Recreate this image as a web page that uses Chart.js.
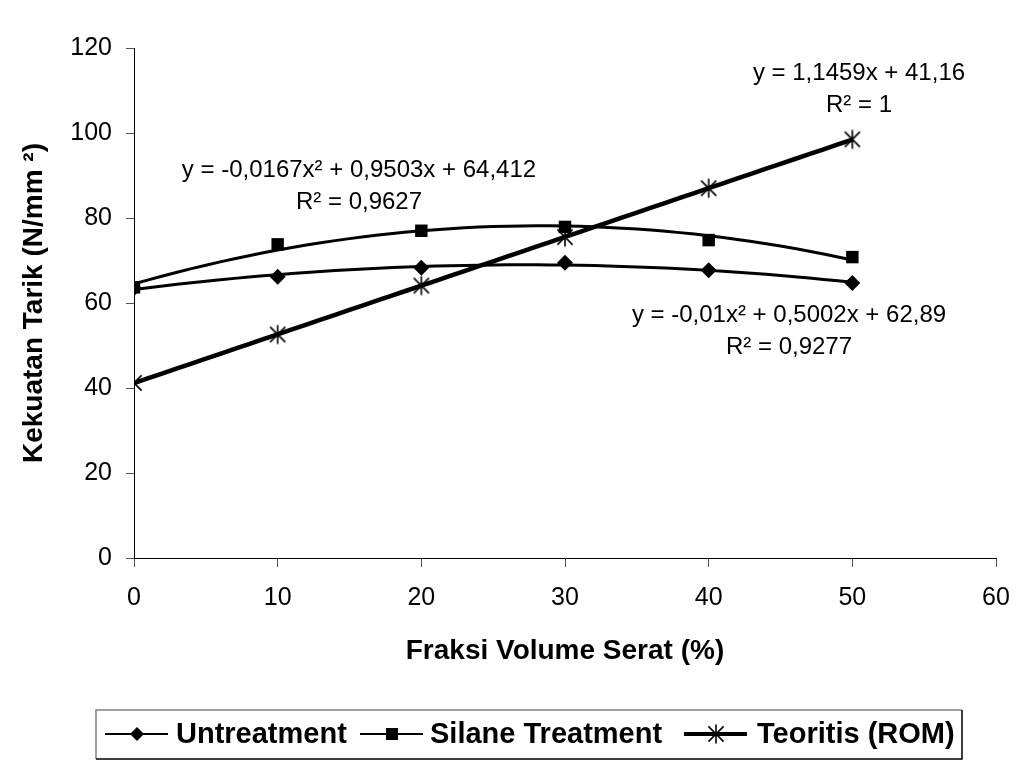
<!DOCTYPE html>
<html>
<head>
<meta charset="utf-8">
<script src="https://cdn.jsdelivr.net/npm/chart.js@4.4.1/dist/chart.umd.min.js"></script>
<style>
  body { margin: 0; background: #fff; }
</style>
</head>
<body>
<canvas id="tarikChart" width="1028" height="772"></canvas>
<script>
// data
const fraksi = [0, 10, 20, 30, 40, 50];
const untreatment = [63.5, 66.2, 68.3, 69.5, 67.7, 64.7];
const silane = [63.7, 73.8, 77.0, 77.9, 74.8, 70.8];
const teoritis = [41.2, 52.6, 64.1, 75.5, 87.0, 98.5];

const seriesNames = ['Untreatment', 'Silane Treatment', 'Teoritis (ROM)'];
const eqUntreat = ['y = -0,01x\u00b2 + 0,5002x + 62,89', 'R\u00b2 = 0,9277'];
const eqSilane = ['y = -0,0167x\u00b2 + 0,9503x + 64,412', 'R\u00b2 = 0,9627'];
const eqTeoritis = ['y = 1,1459x + 41,16', 'R\u00b2 = 1'];

const xTicks = [0, 10, 20, 30, 40, 50, 60];
const yTicks = [0, 20, 40, 60, 80, 100, 120];

const FONT = '"Liberation Sans", Arial, sans-serif';

function toPoints(xs, ys) {
  return xs.map((x, i) => ({ x: x, y: ys[i] }));
}

// least squares polynomial fit (like an Excel trendline), returns [c0, c1, c2...]
function polyFit(xs, ys, order) {
  const n = order + 1;
  const A = [], b = [];
  for (let i = 0; i < n; i++) {
    A.push([]);
    for (let j = 0; j < n; j++) {
      A[i].push(xs.reduce((s, x) => s + Math.pow(x, i + j), 0));
    }
    b.push(xs.reduce((s, x, k) => s + ys[k] * Math.pow(x, i), 0));
  }
  // gauss elimination
  for (let i = 0; i < n; i++) {
    for (let k = i + 1; k < n; k++) {
      const f = A[k][i] / A[i][i];
      for (let j = i; j < n; j++) A[k][j] -= f * A[i][j];
      b[k] -= f * b[i];
    }
  }
  const c = new Array(n).fill(0);
  for (let i = n - 1; i >= 0; i--) {
    let s = b[i];
    for (let j = i + 1; j < n; j++) s -= A[i][j] * c[j];
    c[i] = s / A[i][i];
  }
  return c;
}

function trendPoints(ys, order) {
  const c = polyFit(fraksi, ys, order);
  const pts = [];
  for (let x = fraksi[0]; x <= fraksi[fraksi.length - 1]; x += 1) {
    pts.push({ x: x, y: c.reduce((s, ci, i) => s + ci * Math.pow(x, i), 0) });
  }
  return pts;
}

// asterisk marker (X plus a vertical bar)
function starMarker(size, lw) {
  const c = document.createElement('canvas');
  c.width = size; c.height = size;
  const g = c.getContext('2d');
  const m = size / 2, r = size / 2 - 1.5;
  g.strokeStyle = '#000';
  g.lineWidth = lw;
  g.beginPath();
  g.moveTo(m - r * 0.8, m - r * 0.8); g.lineTo(m + r * 0.8, m + r * 0.8);
  g.moveTo(m + r * 0.8, m - r * 0.8); g.lineTo(m - r * 0.8, m + r * 0.8);
  g.moveTo(m, m - r); g.lineTo(m, m + r);
  g.stroke();
  return c;
}
const star = starMarker(22, 1.6);

const equationPlugin = {
  id: 'equations',
  afterDatasetsDraw(chart) {
    const ctx = chart.ctx;
    ctx.save();
    ctx.fillStyle = '#000';
    ctx.font = '24px ' + FONT;
    ctx.textAlign = 'center';
    ctx.textBaseline = 'middle';
    const put = (lines, x, y1, y2) => {
      ctx.fillText(lines[0], x, y1);
      ctx.fillText(lines[1], x, y2);
    };
    put(eqSilane, 359, 170, 202);
    put(eqTeoritis, 859, 73, 105);
    put(eqUntreat, 789, 315, 347);
    ctx.restore();
  }
};

const legendPlugin = {
  id: 'boxLegend',
  afterDraw(chart) {
    const ctx = chart.ctx;
    const box = { l: 96, t: 710, r: 962, b: 759 };
    const cy = 734;
    ctx.save();
    ctx.lineWidth = 1.5;
    ctx.strokeStyle = '#808080';
    ctx.beginPath();
    ctx.moveTo(box.l, box.b); ctx.lineTo(box.l, box.t); ctx.lineTo(box.r, box.t);
    ctx.stroke();
    ctx.strokeStyle = '#000';
    ctx.beginPath();
    ctx.moveTo(box.r, box.t); ctx.lineTo(box.r, box.b); ctx.lineTo(box.l, box.b);
    ctx.stroke();

    const symX = [105, 360, 684];
    const textX = [176, 430, 757];
    const lw = [2, 2, 4];
    ctx.fillStyle = '#000';
    for (let i = 0; i < 3; i++) {
      ctx.strokeStyle = '#000';
      ctx.lineWidth = lw[i];
      ctx.beginPath();
      ctx.moveTo(symX[i], cy); ctx.lineTo(symX[i] + 63, cy);
      ctx.stroke();
      const mx = symX[i] + 32;
      if (i === 0) {
        ctx.beginPath();
        ctx.moveTo(mx - 7, cy); ctx.lineTo(mx, cy - 7); ctx.lineTo(mx + 7, cy); ctx.lineTo(mx, cy + 7);
        ctx.closePath(); ctx.fill();
      } else if (i === 1) {
        ctx.fillRect(mx - 6, cy - 6, 12, 12);
      } else {
        ctx.drawImage(star, mx - 11, cy - 11);
      }
      ctx.font = 'bold 29px ' + FONT;
      ctx.textAlign = 'left';
      ctx.textBaseline = 'middle';
      ctx.fillText(seriesNames[i], textX[i], cy + 1);
    }
    ctx.restore();
  }
};

const ctx = document.getElementById('tarikChart').getContext('2d');
new Chart(ctx, {
  type: 'scatter',
  data: {
    datasets: [
      {
        label: seriesNames[0], data: toPoints(fraksi, untreatment),
        pointStyle: 'rectRot', pointRadius: 8, backgroundColor: '#000', borderColor: '#000',
        borderWidth: 0, showLine: false
      },
      {
        label: seriesNames[1], data: toPoints(fraksi, silane),
        pointStyle: 'rect', pointRadius: 8.8, backgroundColor: '#000', borderColor: '#000',
        borderWidth: 0, showLine: false
      },
      {
        label: seriesNames[2], data: toPoints(fraksi, teoritis),
        pointStyle: star, pointRadius: 11, showLine: false
      },
      {
        label: 'trend untreat', data: trendPoints(untreatment, 2), showLine: true,
        borderColor: '#000', borderWidth: 3, pointRadius: 0, tension: 0
      },
      {
        label: 'trend silane', data: trendPoints(silane, 2), showLine: true,
        borderColor: '#000', borderWidth: 3, pointRadius: 0, tension: 0
      },
      {
        label: 'trend rom', data: trendPoints(teoritis, 1), showLine: true,
        borderColor: '#000', borderWidth: 4.5, pointRadius: 0, tension: 0
      }
    ]
  },
  options: {
    responsive: false,
    animation: false,
    layout: { padding: { top: 48, right: 32, bottom: 92, left: 0 } },
    plugins: {
      legend: { display: false },
      tooltip: { enabled: false }
    },
    scales: {
      x: {
        type: 'linear', min: 0, max: 60,
        afterBuildTicks: (s) => { s.ticks = xTicks.map(v => ({ value: v })); },
        afterFit: (s) => { s.height = 122; },
        ticks: { color: '#000', font: { family: FONT, size: 25 }, padding: 16 },
        grid: { drawOnChartArea: false, drawTicks: true, tickLength: 9, color: '#555' },
        border: { display: true, color: '#000', width: 1 },
        title: {
          display: true, text: 'Fraksi Volume Serat (%)', color: '#000',
          font: { family: FONT, size: 28, weight: 'bold' }, padding: { top: 0, bottom: 12 }
        }
      },
      y: {
        min: 0, max: 120,
        afterBuildTicks: (s) => { s.ticks = yTicks.map(v => ({ value: v })); },
        afterFit: (s) => { s.width = 134; },
        ticks: { color: '#000', font: { family: FONT, size: 25 }, padding: 14 },
        grid: { drawOnChartArea: false, drawTicks: true, tickLength: 8, color: '#555' },
        border: { display: true, color: '#000', width: 1 },
        title: {
          display: true, text: 'Kekuatan Tarik (N/mm \u00b2)', color: '#000',
          font: { family: FONT, size: 28, weight: 'bold' }, padding: { top: 17, bottom: 0 }
        }
      }
    }
  },
  plugins: [equationPlugin, legendPlugin]
});
</script>
</body>
</html>
